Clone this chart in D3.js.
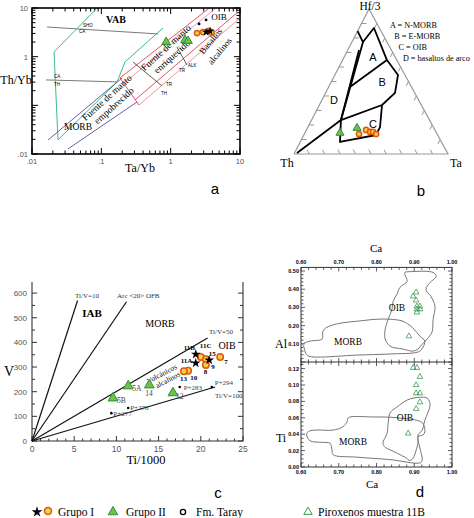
<!DOCTYPE html>
<html><head><meta charset="utf-8">
<script src="https://cdn.jsdelivr.net/npm/d3@7"></script>
<style>body{margin:0;background:#fff}svg{display:block}text{font-family:"Liberation Serif",serif}</style>
</head><body>
<svg id="c" width="474" height="518"></svg>
<script>
// ================= DATA =================
// Panel a : Th/Yb vs Ta/Yb (log-log)
const aXTicks = [0.01, 0.1, 1, 10];
const aXTickLabels = [".01", ".1", "1", "10"];
const aYTicks = [10, 1, 0.01];
const aYTickLabels = ["10", "1", ".01"];
const aGrupoII = [[0.86, 2.0], [1.61, 2.2], [1.78, 2.1]];
const aGrupoICircles = [[2.4, 3.05], [2.94, 3.2], [3.58, 3.4], [3.9, 3.15]];
const aGrupoIStars = [[3.24, 3.2], [3.7, 3.35]];
const aTaray = [[2.57, 4.7], [3.24, 5.7]];
const aGreenField = [[0.087, 10], [0.0208, 1.25], [0.0237, 0.0195], [0.169, 0.303], [0.219, 0.776], [0.776, 3.88]];
const aGrayLines = [[[0.0165, 4.07], [0.66, 2.93]], [[0.0159, 0.333], [0.169, 0.303]]];
const aPurpleLines = [[[0.017, 0.0194], [0.199, 0.365]], [[0.033, 0.0127], [0.327, 0.117]]];
const aRedLines = [[[0.186, 0.365], [3.94, 11.0]], [[0.212, 0.288], [4.51, 10]], [[0.306, 0.129], [9.35, 8.28]], [[0.349, 0.1016], [10, 6.24]], [[0.186, 0.365], [0.349, 0.1016]]];
const aBlackLines = [[[0.286, 0.776], [0.75, 0.25]], [[1.23, 1.58], [1.72, 0.675]]];

// Panel b : Th - Hf/3 - Ta ternary  [Th, Hf/3, Ta]
const bFieldSegments = [
  [[0.152, 0.848, 0], [0.156, 0.772, 0.072], [0.035, 0.869, 0.096], [0.064, 0.648, 0.288], [0.045, 0.545, 0.41], [0.128, 0.421, 0.451], [0.255, 0.338, 0.407]],
  [[0.064, 0.648, 0.288], [0.40, 0.462, 0.138]],
  [[0.156, 0.772, 0.072], [0.575, 0.234, 0.191]],
  [[0.21, 0.717, 0.073], [0.575, 0.234, 0.191]],
  [[0.977, 0.007, 0.016], [0.575, 0.234, 0.191], [0.255, 0.338, 0.407]],
  [[0.575, 0.234, 0.191], [0.659, 0.083, 0.258], [0.40, 0.131, 0.469], [0.346, 0.186, 0.468], [0.255, 0.338, 0.407]]
];
const bFieldLabels = [["A", 0.144, 0.669, 0.187], ["B", 0.173, 0.497, 0.33], ["C", 0.381, 0.207, 0.412], ["D", 0.549, 0.372, 0.079]];
const bGrupoII = [[0.627, 0.145, 0.228], [0.499, 0.179, 0.322]];
const bGrupoI = [[0.507, 0.138, 0.355], [0.447, 0.166, 0.387], [0.428, 0.152, 0.42], [0.409, 0.152, 0.439], [0.396, 0.138, 0.466]];
const bKey = ["A = N-MORB", "B = E-MORB", "C = OIB", "D = basaltos de arco"];

// Panel c : V vs Ti/1000
const cXTicks = [0, 5, 10, 15, 20, 25];
const cYTicks = [0, 100, 200, 300, 400, 500, 600];
const cRefLines = [
  {label: "Ti/V=10", ti: 5.4, v: 570},
  {label: "Arc <20> OFB", ti: 11.2, v: 565},
  {label: "Ti/V=50", ti: 20.8, v: 418},
  {label: "Ti/V=100", ti: 21.7, v: 219}
];
const cGrupoII = [{id: "5A", ti: 11.4, v: 223}, {id: "5B", ti: 9.6, v: 174}, {id: "14", ti: 13.9, v: 227}, {id: "12", ti: 16.7, v: 195}];
const cGrupoICircles = [{id: "7", ti: 22.3, v: 341}, {id: "11C", ti: 20.0, v: 341}, {id: "15", ti: 20.6, v: 332}, {id: "8", ti: 20.6, v: 308}, {id: "10", ti: 18.5, v: 285}, {id: "13", ti: 18.0, v: 283}];
const cGrupoIStars = [{id: "11B", ti: 19.4, v: 352}, {id: "9", ti: 21.0, v: 328}, {id: "11A", ti: 19.4, v: 316}];
const cTaray = [{id: "P+277", ti: 9.4, v: 113}, {id: "P+278", ti: 11.4, v: 134}, {id: "P+283", ti: 17.5, v: 219}, {id: "P+294", ti: 21.3, v: 219}];

// Panel d : Al and Ti vs Ca (pyroxenes)
const dXTicks = [0.6, 0.7, 0.8, 0.9, 1.0];
const dAlTicks = [0.1, 0.2, 0.3, 0.4, 0.5];
const dTiTicks = [0, 0.02, 0.04, 0.06, 0.08, 0.10, 0.12];
const dAlOIB = [[0.875, 0.492], [0.894, 0.497], [0.95, 0.492], [0.958, 0.47], [0.942, 0.437], [0.931, 0.399], [0.944, 0.361], [0.955, 0.306], [0.95, 0.235], [0.947, 0.164], [0.934, 0.126], [0.921, 0.098], [0.91, 0.071], [0.897, 0.06], [0.87, 0.071], [0.836, 0.087], [0.823, 0.126], [0.823, 0.18], [0.831, 0.235], [0.841, 0.29], [0.844, 0.333], [0.854, 0.372], [0.862, 0.41], [0.881, 0.443], [0.875, 0.481]];
const dAlMORB = [[0.605, 0.098], [0.624, 0.115], [0.656, 0.126], [0.658, 0.169], [0.669, 0.191], [0.703, 0.213], [0.748, 0.224], [0.801, 0.235], [0.836, 0.235], [0.87, 0.224], [0.894, 0.191], [0.915, 0.142], [0.928, 0.115], [0.92, 0.071], [0.91, 0.055], [0.836, 0.044], [0.748, 0.038], [0.642, 0.027], [0.619, 0.033], [0.611, 0.055], [0.608, 0.082]];
const dTiOIB = [[0.854, 0.073], [0.883, 0.082], [0.915, 0.085], [0.934, 0.084], [0.942, 0.076], [0.928, 0.057], [0.921, 0.045], [0.91, 0.039], [0.91, 0.03], [0.897, 0.011], [0.889, 0.008], [0.875, 0.012], [0.836, 0.021], [0.823, 0.024], [0.817, 0.029], [0.828, 0.041], [0.831, 0.054], [0.836, 0.066]];
const dTiMORB = [[0.725, 0.06], [0.791, 0.061], [0.854, 0.06], [0.921, 0.054], [0.928, 0.043], [0.923, 0.039], [0.91, 0.037], [0.915, 0.023], [0.921, 0.008], [0.915, 0.005], [0.836, 0.009], [0.748, 0.012], [0.685, 0.015], [0.682, 0.021], [0.677, 0.029], [0.658, 0.03], [0.624, 0.032], [0.615, 0.039], [0.619, 0.043], [0.637, 0.045], [0.685, 0.045], [0.711, 0.049], [0.722, 0.055]];
const dAlPyx = [[0.905, 0.383], [0.897, 0.361], [0.905, 0.339], [0.907, 0.306], [0.915, 0.306], [0.907, 0.29], [0.915, 0.29], [0.907, 0.273], [0.886, 0.142]];
const dTiPyx = [[0.897, 0.121], [0.907, 0.121], [0.915, 0.11], [0.905, 0.1], [0.905, 0.09], [0.915, 0.09], [0.915, 0.079], [0.905, 0.071], [0.884, 0.041]];

const legendItems = ["Grupo I", "Grupo II", "Fm. Taray", "Piroxenos muestra 11B"];

// ================= STYLE =================
const ORANGE_FILL = "#f7cf4a", ORANGE_STROKE = "#e2560c";
const GREEN_FILL = "#6cc24a", GREEN_STROKE = "#2f8f3a";
const svg = d3.select("#c");
const sym = (type, size) => d3.symbol(type, size)();

function triangle(g, x, y, size, fill, stroke, sw) {
  g.append("path").attr("d", sym(d3.symbolTriangle, size)).attr("transform", `translate(${x},${y})`)
    .attr("fill", fill).attr("stroke", stroke).attr("stroke-width", sw || 1);
}
function ring(g, x, y, r) {
  g.append("circle").attr("cx", x).attr("cy", y).attr("r", r).attr("fill", ORANGE_FILL).attr("stroke", ORANGE_STROKE).attr("stroke-width", 1.5);
}
function star(g, x, y, size) {
  g.append("path").attr("d", sym(d3.symbolStar, size)).attr("transform", `translate(${x},${y})`).attr("fill", "#000");
}
function txt(g, x, y, s, size, opts) {
  opts = opts || {};
  const t = g.append("text").attr("x", x).attr("y", y).text(s).attr("font-size", size)
    .attr("text-anchor", opts.anchor || "start").attr("fill", opts.fill || "#000");
  if (opts.sans) t.style("font-family", "'Liberation Sans',Arial,sans-serif");
  if (opts.bold) t.attr("font-weight", "bold");
  if (opts.rot !== undefined) t.attr("transform", `rotate(${opts.rot},${x},${y})`);
  return t;
}

// ================= PANEL A =================
{
  const g = svg.append("g");
  const x = d3.scaleLog().domain([0.01, 10]).range([32, 240]);
  const y = d3.scaleLog().domain([0.01, 10]).range([154, 8]);
  const [x0, x1] = x.range(), [y1, y0] = y.range();
  g.append("clipPath").attr("id", "clipA").append("rect").attr("x", x0).attr("y", y0).attr("width", x1 - x0).attr("height", y1 - y0);
  const isMajor = t => Math.abs(Math.log10(t) - Math.round(Math.log10(t))) < 1e-6;
  x.ticks().forEach(t => {
    const L = isMajor(t) ? 6 : 3.5;
    g.append("line").attr("x1", x(t)).attr("x2", x(t)).attr("y1", y1).attr("y2", y1 - L).attr("stroke", "#000");
    g.append("line").attr("x1", x(t)).attr("x2", x(t)).attr("y1", y0).attr("y2", y0 + L).attr("stroke", "#000");
  });
  y.ticks().forEach(t => {
    const L = isMajor(t) ? 6 : 3.5;
    g.append("line").attr("y1", y(t)).attr("y2", y(t)).attr("x1", x0).attr("x2", x0 + L).attr("stroke", "#000");
    g.append("line").attr("y1", y(t)).attr("y2", y(t)).attr("x1", x1).attr("x2", x1 - L).attr("stroke", "#000");
  });
  aXTicks.forEach((t, i) => txt(g, x(t), y1 + 10, aXTickLabels[i], 7.5, {anchor: "middle", sans: 1, fill: "#555"}));
  aYTicks.forEach((t, i) => txt(g, x0 - 4, y(t) + 3, aYTickLabels[i], 7.5, {anchor: "end", sans: 1, fill: "#555"}));
  const line = d3.line().x(d => x(d[0])).y(d => y(d[1]));
  const lg = g.append("g").attr("clip-path", "url(#clipA)").attr("fill", "none");
  aGrayLines.forEach(l => lg.append("path").attr("d", line(l)).attr("stroke", "#555").attr("stroke-width", 0.8));
  lg.append("path").attr("d", line(aGreenField)).attr("stroke", "#3dbb8a").attr("stroke-width", 1);
  aPurpleLines.forEach(l => lg.append("path").attr("d", line(l)).attr("stroke", "#5a4ca0").attr("stroke-width", 0.9));
  aRedLines.forEach((l, i) => lg.append("path").attr("d", line(l)).attr("stroke", i % 2 ? "#f08aa0" : "#e0405a").attr("stroke-width", 0.9));
  aBlackLines.forEach(l => lg.append("path").attr("d", line(l)).attr("stroke", "#333").attr("stroke-width", 0.8));
  g.append("rect").attr("x", x0).attr("y", y0).attr("width", x1 - x0).attr("height", y1 - y0).attr("fill", "none").attr("stroke", "#000").attr("stroke-width", 1.6);
  txt(g, 83, 27, "SHO", 4.5, {sans: 1}); txt(g, 79, 33, "CA", 4.5, {sans: 1});
  txt(g, 54, 78, "CA", 4.5, {sans: 1}); txt(g, 54, 86, "TH", 4.5, {sans: 1});
  txt(g, 166, 86, "TR", 4.5, {sans: 1}); txt(g, 161, 95, "TH", 4.5, {sans: 1});
  txt(g, 179, 72, "TR", 4.5, {sans: 1}); txt(g, 188, 67, "ALK", 4.5, {sans: 1});
  txt(g, 116, 23, "VAB", 10, {anchor: "middle", bold: 1});
  txt(g, 219, 20, "OIB", 9, {anchor: "middle"});
  txt(g, 78, 130, "MORB", 9.5, {anchor: "middle"});
  txt(g, 109, 100, "Fuente de manto", 9.5, {anchor: "middle", rot: -42});
  txt(g, 116, 108, "empobrecido", 9.5, {anchor: "middle", rot: -42});
  txt(g, 168, 50, "Fuente de manto", 9.5, {anchor: "middle", rot: -42});
  txt(g, 174, 59, "enriquecido", 9.5, {anchor: "middle", rot: -42});
  txt(g, 213, 43, "Basaltos", 9, {anchor: "middle", rot: -50});
  txt(g, 222, 53, "alcalinos", 9, {anchor: "middle", rot: -50});
  txt(g, 16, 84, "Th/Yb", 12, {anchor: "middle"});
  txt(g, 140, 172, "Ta/Yb", 12, {anchor: "middle"});
  aTaray.forEach(d => g.append("circle").attr("cx", x(d[0])).attr("cy", y(d[1])).attr("r", 1.4).attr("fill", "#000"));
  aGrupoII.forEach(d => triangle(g, x(d[0]), y(d[1]), 32, GREEN_FILL, GREEN_STROKE));
  aGrupoICircles.forEach(d => ring(g, x(d[0]), y(d[1]), 2.6));
  aGrupoIStars.forEach(d => star(g, x(d[0]), y(d[1]), 22));
  txt(g, 215, 194, "a", 15, {anchor: "middle", sans: 1});
}

// ================= PANEL B =================
{
  const g = svg.append("g");
  const tx = d3.scaleLinear().domain([0, 1]).range([294, 448]);
  const ty = d3.scaleLinear().domain([0, 1]).range([154, 9]);
  const apexShift = 0.487;
  const P = d => [tx(d[2] + d[1] * apexShift), ty(d[1])];
  const Th = P([1, 0, 0]), Hf = P([0, 1, 0]), Ta = P([0, 0, 1]);
  g.append("path").attr("d", d3.line()([Th, Ta, Hf, Th])).attr("fill", "none").attr("stroke", "#999").attr("stroke-width", 1.2);
  const unit = (a, b) => { const dx = b[0] - a[0], dy = b[1] - a[1], l = Math.hypot(dx, dy); return [dx / l, dy / l]; };
  const edges = [[Th, Hf, unit(Th, Ta)], [Hf, Ta, unit(Hf, Th)], [Ta, Th, unit(Ta, Hf)]];
  edges.forEach(([a, b, dir]) => d3.range(1, 10).forEach(i => {
    const f = i / 10, px = a[0] + (b[0] - a[0]) * f, py = a[1] + (b[1] - a[1]) * f;
    g.append("line").attr("x1", px).attr("y1", py).attr("x2", px + dir[0] * 5).attr("y2", py + dir[1] * 5).attr("stroke", "#999").attr("stroke-width", 1);
  }));
  bFieldSegments.forEach(s => g.append("path").attr("d", d3.line()(s.map(P))).attr("fill", "none").attr("stroke", "#000").attr("stroke-width", 1.8).attr("stroke-linejoin", "round"));
  bFieldLabels.forEach(d => { const p = P([d[1], d[2], d[3]]); txt(g, p[0], p[1] + 4, d[0], 11, {anchor: "middle", sans: 1}); });
  bGrupoII.forEach(d => { const p = P(d); triangle(g, p[0], p[1], 28, GREEN_FILL, GREEN_STROKE); });
  bGrupoI.forEach(d => { const p = P(d); ring(g, p[0], p[1], 2.6); });
  bKey.forEach((s, i) => txt(g, 390 + i * 4.3, 28 + i * 11, s, 8.2));
  txt(g, 370, 10, "Hf/3", 11.5, {anchor: "middle"});
  txt(g, 287, 167, "Th", 12, {anchor: "middle"});
  txt(g, 456, 167, "Ta", 12, {anchor: "middle"});
  txt(g, 421, 196, "b", 15, {anchor: "middle", sans: 1});
}

// ================= PANEL C =================
{
  const g = svg.append("g");
  const x = d3.scaleLinear().domain([0, 25]).range([32, 243]);
  const y = d3.scaleLinear().domain([0, 645]).range([441, 282]);
  const [x0, x1] = x.range(), [y1, y0] = y.range();
  d3.range(0, 645, 50).forEach(v => {
    const L = v % 100 === 0 ? 5 : 3;
    g.append("line").attr("x1", x0).attr("x2", x0 + L).attr("y1", y(v)).attr("y2", y(v)).attr("stroke", "#333");
    g.append("line").attr("x1", x1).attr("x2", x1 - L).attr("y1", y(v)).attr("y2", y(v)).attr("stroke", "#333");
  });
  d3.range(0, 25.01, 1).forEach(t => {
    const L = t % 5 === 0 ? 5 : 2.5;
    g.append("line").attr("x1", x(t)).attr("x2", x(t)).attr("y1", y1).attr("y2", y1 - L).attr("stroke", "#333");
  });
  g.append("path").attr("d", `M${x0},${y0}V${y1}H${x1}V${y0}`).attr("fill", "none").attr("stroke", "#333").attr("stroke-width", 1.1);
  cYTicks.forEach(v => txt(g, x0 - 5, y(v) + 3, String(v), 8, {anchor: "end", sans: 1, fill: "#555"}));
  cXTicks.forEach(t => txt(g, x(t), y1 + 11, String(t), 8.5, {anchor: "middle", sans: 1, fill: "#555"}));
  cRefLines.forEach(d => g.append("line").attr("x1", x(0)).attr("y1", y(0)).attr("x2", x(d.ti)).attr("y2", y(d.v)).attr("stroke", "#111").attr("stroke-width", 1.2));
  txt(g, 75, 298, cRefLines[0].label, 7, {fill: "#333"});
  txt(g, 117, 298, cRefLines[1].label, 7, {fill: "#333"});
  txt(g, 209, 334, cRefLines[2].label, 7, {fill: "#333"});
  txt(g, 215, 398, cRefLines[3].label, 7, {fill: "#333"});
  txt(g, 92, 317, "IAB", 11, {anchor: "middle", bold: 1});
  txt(g, 160, 327, "MORB", 10, {anchor: "middle"});
  txt(g, 227, 349, "OIB", 10, {anchor: "middle"});
  txt(g, 163, 376, "Volcánicos", 7.5, {anchor: "middle", rot: -28});
  txt(g, 169, 382, "alcalinos", 7.5, {anchor: "middle", rot: -28});
  txt(g, 9, 376, "V", 14, {anchor: "middle"});
  txt(g, 146, 464, "Ti/1000", 12.5, {anchor: "middle"});
  const offs = {"5A": [4, 5], "5B": [4, 5], "14": [-4, 11], "12": [3, 6], "7": [4, 7], "11C": [-1, -9], "15": [3, -3], "8": [-2, 9], "10": [2, 9], "13": [-4, 10], "11B": [-12, -4], "9": [2, 9], "11A": [-15, 0], "P+277": [2, 3], "P+278": [2, 2], "P+283": [4, 3], "P+294": [3, -2]};
  cTaray.forEach(d => { g.append("circle").attr("cx", x(d.ti)).attr("cy", y(d.v)).attr("r", 1.3).attr("fill", "#000"); txt(g, x(d.ti) + offs[d.id][0], y(d.v) + offs[d.id][1], d.id, 7, {fill: "#444"}); });
  cGrupoII.forEach(d => { triangle(g, x(d.ti), y(d.v), 42, GREEN_FILL, GREEN_STROKE); txt(g, x(d.ti) + offs[d.id][0], y(d.v) + offs[d.id][1], d.id, 7.5, {fill: "#444"}); });
  cGrupoICircles.forEach(d => ring(g, x(d.ti), y(d.v), 3.2));
  cGrupoIStars.forEach(d => star(g, x(d.ti), y(d.v), 30));
  cGrupoICircles.concat(cGrupoIStars).forEach(d => txt(g, x(d.ti) + offs[d.id][0], y(d.v) + offs[d.id][1], d.id, 7, {bold: 1}));
  txt(g, 218, 498, "c", 15, {anchor: "middle", sans: 1});
}

// ================= PANEL D =================
{
  const g = svg.append("g");
  const x = d3.scaleLinear().domain([0.6, 1.0]).range([301, 452]);
  const yAl = d3.scaleLinear().domain([0, 0.52]).range([362, 267.4]);
  const yTi = d3.scaleLinear().domain([0, 0.128]).range([467, 362]);
  const [x0, x1] = x.range();
  const top = yAl(0.52), mid = yAl(0), bot = yTi(0);
  d3.range(0.6, 1.001, 0.02).forEach(t => {
    const L = Math.abs(t * 10 - Math.round(t * 10)) < 1e-6 ? 4 : 2.5;
    [[bot, -1], [top, 1], [mid, -1], [mid, 1]].forEach(([yy, s]) => g.append("line").attr("x1", x(t)).attr("x2", x(t)).attr("y1", yy).attr("y2", yy + s * L).attr("stroke", "#333").attr("stroke-width", 0.8));
  });
  d3.range(0, 0.52, 0.02).forEach(v => {
    const L = Math.abs(v * 10 - Math.round(v * 10)) < 1e-6 ? 4 : 2.5;
    g.append("line").attr("x1", x0).attr("x2", x0 + L).attr("y1", yAl(v)).attr("y2", yAl(v)).attr("stroke", "#333").attr("stroke-width", 0.8);
    g.append("line").attr("x1", x1).attr("x2", x1 - L).attr("y1", yAl(v)).attr("y2", yAl(v)).attr("stroke", "#333").attr("stroke-width", 0.8);
  });
  d3.range(0, 0.128, 0.005).forEach(v => {
    const L = Math.abs(v * 50 - Math.round(v * 50)) < 1e-6 ? 4 : 2.5;
    g.append("line").attr("x1", x0).attr("x2", x0 + L).attr("y1", yTi(v)).attr("y2", yTi(v)).attr("stroke", "#333").attr("stroke-width", 0.8);
    g.append("line").attr("x1", x1).attr("x2", x1 - L).attr("y1", yTi(v)).attr("y2", yTi(v)).attr("stroke", "#333").attr("stroke-width", 0.8);
  });
  g.append("rect").attr("x", x0).attr("y", top).attr("width", x1 - x0).attr("height", bot - top).attr("fill", "none").attr("stroke", "#333").attr("stroke-width", 1);
  g.append("line").attr("x1", x0).attr("x2", x1).attr("y1", mid).attr("y2", mid).attr("stroke", "#333").attr("stroke-width", 1);
  dXTicks.forEach(t => { txt(g, x(t), bot + 7, t.toFixed(2), 5.5, {anchor: "middle", sans: 1, bold: 1}); txt(g, x(t), top - 3, t.toFixed(2), 5.5, {anchor: "middle", sans: 1, bold: 1}); });
  dAlTicks.forEach(v => txt(g, x0 - 2, yAl(v) + 2, v.toFixed(2), 5.5, {anchor: "end", sans: 1, bold: 1}));
  dTiTicks.forEach(v => txt(g, x0 - 2, yTi(v) + 2, v.toFixed(2), 5.5, {anchor: "end", sans: 1, bold: 1}));
  const lAl = d3.line().x(d => x(d[0])).y(d => yAl(d[1])).curve(d3.curveCatmullRomClosed);
  const lTi = d3.line().x(d => x(d[0])).y(d => yTi(d[1])).curve(d3.curveCatmullRomClosed);
  [[lAl, dAlOIB], [lAl, dAlMORB], [lTi, dTiOIB], [lTi, dTiMORB]].forEach(([l, d]) => g.append("path").attr("d", l(d)).attr("fill", "none").attr("stroke", "#777").attr("stroke-width", 1));
  txt(g, 397, 311, "OIB", 9.5, {anchor: "middle"});
  txt(g, 348, 345, "MORB", 9.5, {anchor: "middle"});
  txt(g, 405, 421, "OIB", 9.5, {anchor: "middle"});
  txt(g, 353, 445, "MORB", 9.5, {anchor: "middle"});
  dAlPyx.forEach(d => triangle(g, x(d[0]), yAl(d[1]), 14, "none", "#3a9a4a", 0.8));
  dTiPyx.forEach(d => triangle(g, x(d[0]), yTi(d[1]), 14, "none", "#3a9a4a", 0.8));
  txt(g, 376, 252, "Ca", 11, {anchor: "middle"});
  txt(g, 372, 488, "Ca", 11, {anchor: "middle"});
  txt(g, 281, 348, "Al", 12, {anchor: "middle"});
  txt(g, 281, 442, "Ti", 12, {anchor: "middle"});
  txt(g, 420, 497, "d", 15, {anchor: "middle", sans: 1});
}

// ================= LEGEND =================
{
  const g = svg.append("g");
  star(g, 37, 512, 36);
  ring(g, 48, 511, 3.5);
  txt(g, 58, 516, legendItems[0], 11.5);
  triangle(g, 113, 512, 40, GREEN_FILL, GREEN_STROKE);
  txt(g, 126, 516, legendItems[1], 11.5);
  g.append("circle").attr("cx", 183).attr("cy", 512).attr("r", 2.6).attr("fill", "none").attr("stroke", "#000").attr("stroke-width", 1.3);
  txt(g, 196, 516, legendItems[2], 11.5);
  triangle(g, 308, 512, 30, "none", "#3a9a4a", 1);
  txt(g, 318, 516, legendItems[3], 11.5);
}
</script>
</body></html>
